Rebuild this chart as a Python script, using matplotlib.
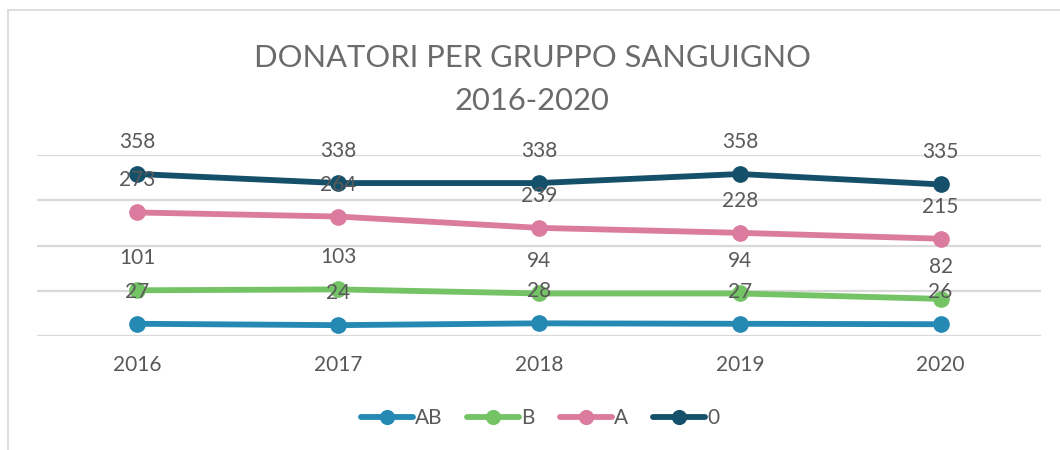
import matplotlib
matplotlib.use("Agg")
import matplotlib.pyplot as plt
from matplotlib.lines import Line2D

years = ["2016", "2017", "2018", "2019", "2020"]
series_names = ["AB", "B", "A", "0"]
ab_vals = [27, 24, 28, 27, 26]
b_vals = [101, 103, 94, 94, 82]
a_vals = [273, 264, 239, 228, 215]
o_vals = [358, 338, 338, 358, 335]
colors = ["#2589B3", "#74C365", "#DB7C9E", "#15506A"]

plt.rcParams["font.family"] = ["Lato", "DejaVu Sans"]
text_col = "#595959"

fig = plt.figure(figsize=(10.6, 4.5), dpi=100)
ax = fig.add_axes([37 / 1060, 114 / 450, 1004 / 1060, 181 / 450])

x = list(range(len(years)))
for name, vals, col in zip(series_names, [ab_vals, b_vals, a_vals, o_vals], colors):
    ax.plot(x, vals, color=col, lw=4.2, marker="o", ms=11, label=name,
            solid_capstyle="round", zorder=3)

for vals in [ab_vals, b_vals, a_vals, o_vals]:
    for xi, v in zip(x, vals):
        ax.annotate(str(v), (xi, v), xytext=(0, 32), textcoords="offset pixels",
                    ha="center", va="center", fontsize=15, color=text_col, zorder=5)

ax.set_xlim(-0.5, 4.5)
ax.set_ylim(0, 400)
ax.set_yticks([0, 100, 200, 300, 400])
ax.yaxis.grid(True, color="#D9D9D9", lw=1.6)
ax.set_axisbelow(True)
ax.tick_params(axis="y", left=False, labelleft=False)
ax.tick_params(axis="x", length=0, pad=14, labelsize=15, labelcolor=text_col)
ax.set_xticks(x)
ax.set_xticklabels(years)
for s in ax.spines.values():
    s.set_visible(False)

title_col = "#6B6B6B"
fig.text(532 / 1060, 1 - 58 / 450, "DONATORI PER GRUPPO SANGUIGNO", ha="center", va="center",
         fontsize=22.2, color=title_col)
fig.text(532 / 1060, 1 - 101 / 450, "2016-2020", ha="center", va="center",
         fontsize=22.2, color=title_col)

fig.legend(loc="center", bbox_to_anchor=(540 / 1060, 1 - 418 / 450), ncol=4, frameon=False,
           fontsize=15, labelcolor=text_col, handlelength=2.5, handletextpad=0.1,
           columnspacing=1.2, markerscale=0.9)

# chart area border
fig.add_artist(Line2D([8 / 1060, 8 / 1060], [0, 1 - 10 / 450], color="#D9D9D9", lw=1.2,
                      transform=fig.transFigure))
fig.add_artist(Line2D([8 / 1060, 1], [1 - 10 / 450, 1 - 10 / 450], color="#D9D9D9", lw=1.2,
                      transform=fig.transFigure))

fig.savefig("out.png", dpi=100)
